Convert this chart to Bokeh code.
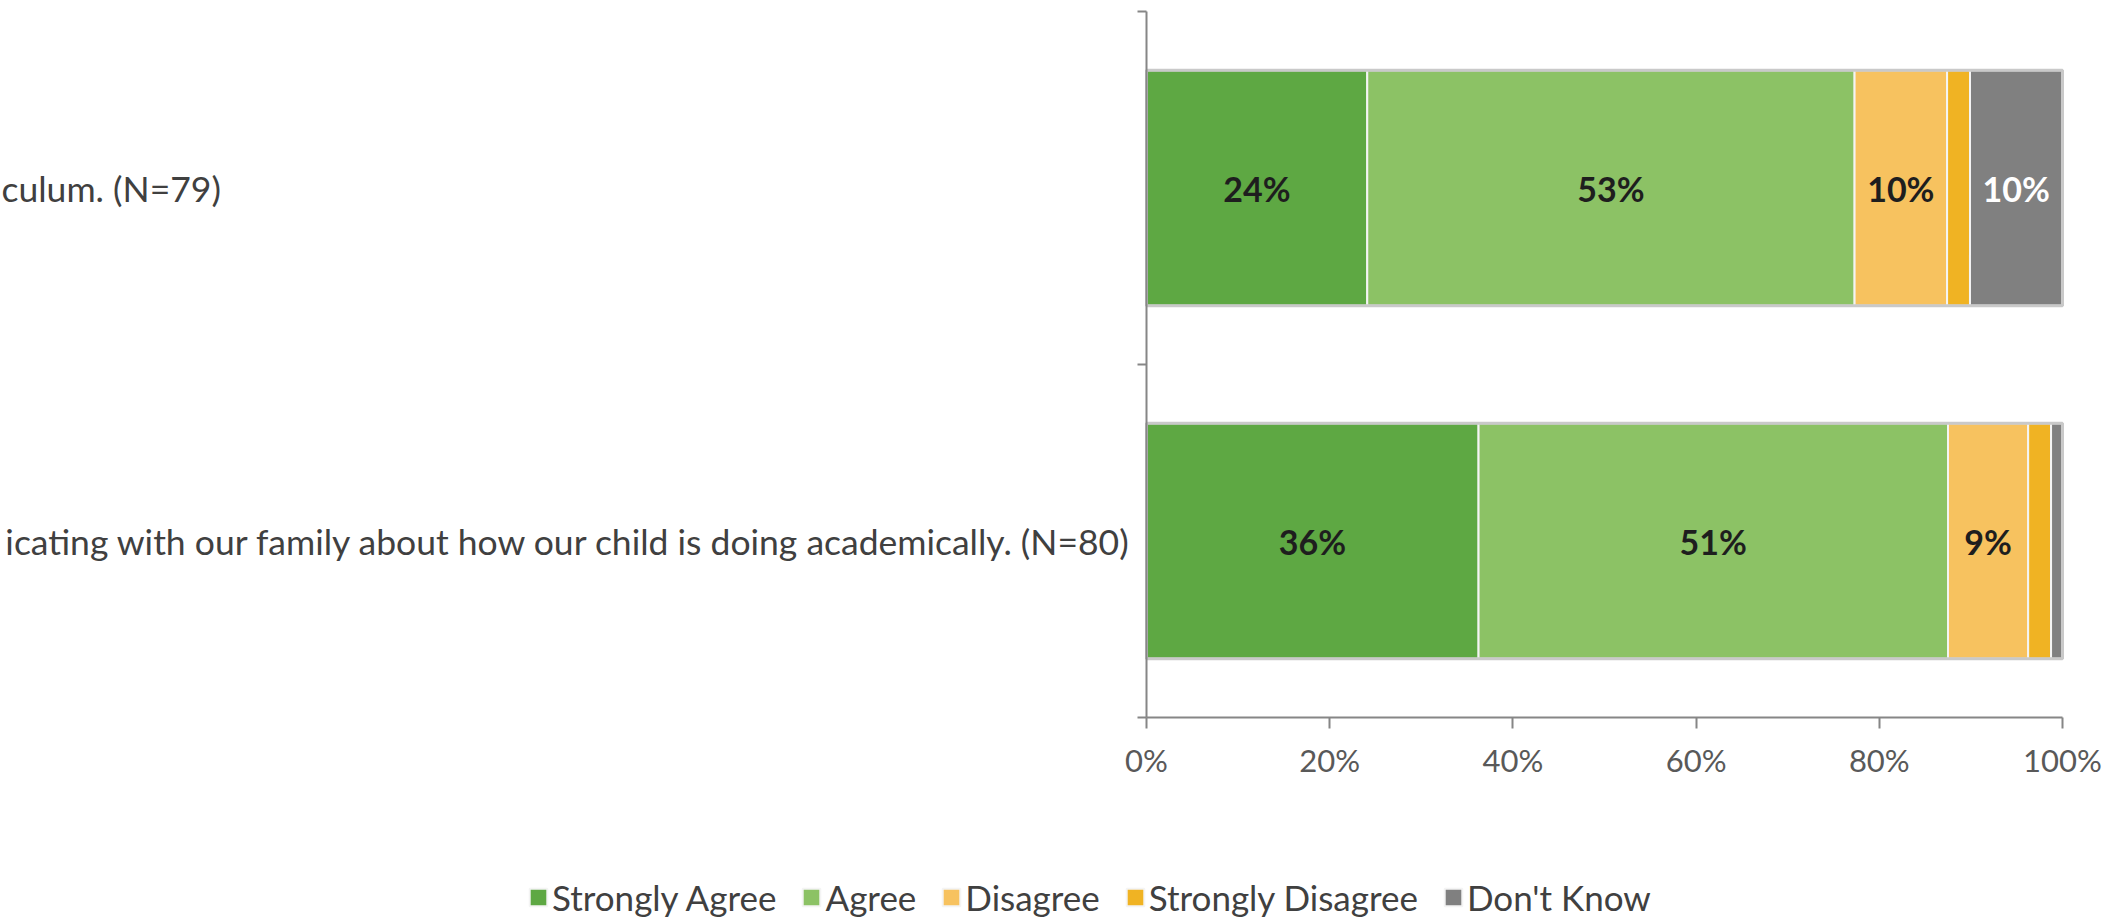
from bokeh.plotting import figure
from bokeh.models import (ColumnDataSource, Range1d, FixedTicker, NumeralTickFormatter,
                          Legend, LegendItem, Label)
from bokeh.core.properties import value
from bokeh.embed import file_html
from bokeh.resources import INLINE

# ---- data ----
category_labels = ["culum. (N=79)",
                   "icating with our family about how our child is doing academically. (N=80)"]
series = ["Strongly Agree", "Agree", "Disagree", "Strongly Disagree", "Don't Know"]
strongly_agree = [24.1, 36.25]
agree = [53.2, 51.25]
disagree = [10.1, 8.75]
strongly_disagree = [2.5, 2.5]
dont_know = [10.1, 1.25]
x_ticks = [0, 0.2, 0.4, 0.6, 0.8, 1.0]

colors = ["#5EA843", "#8CC265", "#F7C25F", "#F0B323", "#808080"]
label_colors = ["#1e1e1e", "#1e1e1e", "#1e1e1e", "#1e1e1e", "#ffffff"]
FONT = "Lato"

values = [strongly_agree, agree, disagree, strongly_disagree, dont_know]
n = len(category_labels)
ys = [n - i - 0.5 for i in range(n)]

# ---- layout (canvas pixels) ----
W, H = 2115, 920
X0_PX, X1_PX = 1146, 2062        # canvas x of 0% and 100%
YTOP_PX, YBOT_PX = 11, 717       # canvas y of top and bottom of the category axis
sx = (X1_PX - X0_PX)
sy = (YBOT_PX - YTOP_PX) / n
x_range = Range1d(-X0_PX / sx, 1 + (W - X1_PX) / sx)
y_range = Range1d(-(H - YBOT_PX) / sy, n + YTOP_PX / sy)

p = figure(width=W, height=H, output_backend="svg", toolbar_location=None,
           x_range=x_range, y_range=y_range,
           min_border_left=0, min_border_right=0, min_border_top=0,
           min_border_bottom=0)
p.outline_line_color = None
p.grid.visible = False
p.background_fill_color = "white"
p.border_fill_color = "white"

BAR_H = 0.667
lefts = [0.0] * n
items = []
for s, vals, col, lcol in zip(series, values, colors, label_colors):
    rights = [l + v / 100.0 for l, v in zip(lefts, vals)]
    src = ColumnDataSource(dict(y=ys, left=list(lefts), right=rights))
    r = p.hbar(y="y", left="left", right="right", height=BAR_H, source=src,
               fill_color=col, line_color="#f4f4f4", line_width=2)
    items.append(LegendItem(label=s, renderers=[r]))
    lx, ly, lt = [], [], []
    for l, rr, v, y in zip(lefts, rights, vals, ys):
        if v >= 5:
            lx.append((l + rr) / 2)
            ly.append(y)
            lt.append(f"{round(v)}%")
    if lx:
        p.text(x=lx, y=ly, text=lt, text_align="center", text_baseline="middle",
               text_font=value(FONT), text_font_size="34px", text_font_style="bold",
               text_color=lcol)
    lefts = rights

# outer light border round each bar
p.hbar(y=ys, left=[0.0] * n, right=lefts, height=BAR_H, fill_color=None,
       line_color="#c9c9c9", line_width=3)

# x axis, fixed at y = 0 and limited to 0..100%
xa = p.xaxis[0]
xa.fixed_location = 0
xa.bounds = (0, 1)
xa.ticker = FixedTicker(ticks=x_ticks)
xa.formatter = NumeralTickFormatter(format="0%")
xa.axis_line_color = "#868686"
xa.axis_line_width = 2
xa.major_tick_line_color = "#868686"
xa.major_tick_line_width = 2
xa.major_tick_out = 11
xa.major_tick_in = 0
xa.minor_tick_line_color = None
xa.major_label_text_font = FONT
xa.major_label_text_font_size = "31px"
xa.major_label_text_color = "#595959"
xa.major_label_standoff = 12

# y axis, fixed at x = 0, ticks at category boundaries
ya = p.yaxis[0]
ya.fixed_location = 0
ya.bounds = (0, n)
ya.ticker = FixedTicker(ticks=list(range(n + 1)))
ya.major_label_text_font_size = "0px"
ya.major_label_text_alpha = 0
ya.axis_line_color = "#868686"
ya.axis_line_width = 2
ya.major_tick_line_color = "#868686"
ya.major_tick_line_width = 2
ya.major_tick_out = 9
ya.major_tick_in = 0
ya.minor_tick_line_color = None

# category labels (visible parts of the long statements)
p.add_layout(Label(x=x_range.start, y=ys[0], x_offset=1, text=category_labels[0],
                   text_align="left", text_baseline="middle", text_font=FONT,
                   text_font_size="35.5px", text_color="#404040"))
p.add_layout(Label(x=0, y=ys[1], x_offset=-14, text=category_labels[1],
                   text_align="right", text_baseline="middle", text_font=FONT,
                   text_font_size="35.5px", text_color="#404040"))

legend = Legend(items=items, orientation="horizontal", location=(527, 2),
                glyph_width=22, glyph_height=22, label_standoff=3, spacing=24,
                padding=0, margin=0, border_line_alpha=0, background_fill_alpha=0,
                label_text_font=FONT, label_text_font_size="35px",
                label_text_color="#404040")
p.add_layout(legend, "center")

open("out.html", "w").write(file_html(p, INLINE))
